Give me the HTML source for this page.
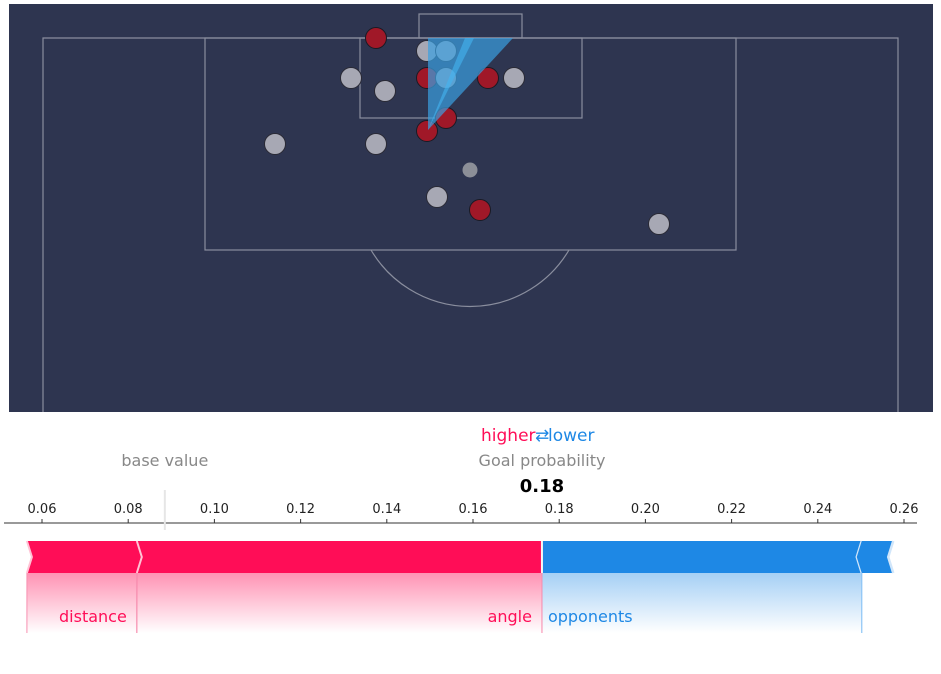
<!DOCTYPE html>
<html><head><meta charset="utf-8">
<style>
body{margin:0;background:#fff;width:941px;height:670px;overflow:hidden;font-family:"DejaVu Sans","Liberation Sans",sans-serif;}
svg text{font-family:"DejaVu Sans","Liberation Sans",sans-serif;}
</style></head>
<body>
<svg id="s" width="941" height="670" xmlns="http://www.w3.org/2000/svg">
<defs>
<linearGradient id="gr" x1="0" y1="0" x2="0" y2="1"><stop offset="0" stop-color="#ff0d57" stop-opacity="0.45"/><stop offset="1" stop-color="#ff0d57" stop-opacity="0"/></linearGradient>
<linearGradient id="gb" x1="0" y1="0" x2="0" y2="1"><stop offset="0" stop-color="#1e88e5" stop-opacity="0.4"/><stop offset="1" stop-color="#1e88e5" stop-opacity="0"/></linearGradient>
</defs>
<g>
<rect x="9" y="4" width="924" height="408" fill="#2e3550"/>
<g fill="none" stroke="#8a8e9e" stroke-width="1.2">
<path d="M43 412 V38 H898 V412"/>
<rect x="205" y="38" width="531" height="212"/>
<rect x="360" y="38" width="222" height="80"/>
<rect x="419" y="14" width="103" height="24"/>
<path d="M371 250 A115 115 0 0 0 569 250"/>
</g>
</g>
<g id="players"></g>
<g>
<polygon points="428,130 428,38 513,38" fill="#3aa0e0" opacity="0.7"/>
<polygon points="428,130 465,38 474,38" fill="#45b4f2" opacity="0.6"/>
</g>
<g id="force"></g>
</svg>
<script>
// pitch players (pixel-space positions)
const attackersX=[376,427,488,446,427,480];
const attackersY=[38,78,78,118,131,210];
const defendersX=[427,446,351,446,514,385,275,376,437,659];
const defendersY=[51,51,78,78,78,91,144,144,197,224];
// force plot data
const tickValues=[0.06,0.08,0.10,0.12,0.14,0.16,0.18,0.20,0.22,0.24,0.26];
const tickLabels=["0.06","0.08","0.10","0.12","0.14","0.16","0.18","0.20","0.22","0.24","0.26"];
const redStarts=[0.0565,0.082];
const redEnds=[0.082,0.176];
const redNames=["distance","angle"];
const blueStarts=[0.176,0.2502];
const blueEnds=[0.2502,0.2575];
const blueNames=["opponents",""];
const outputValue=0.176;
const baseValue=0.0885;

const NS="http://www.w3.org/2000/svg";
function mk(tag,attrs,parent,text){const e=document.createElementNS(NS,tag);for(const k in attrs)e.setAttribute(k,attrs[k]);if(text!==undefined)e.textContent=text;parent.appendChild(e);return e;}
const pg=document.getElementById('players');
attackersX.forEach((x,i)=>{const c=mk('circle',{cx:x,cy:attackersY[i],r:10.5,fill:'#a01828',stroke:'#1a1a24','stroke-width':1},pg);

});
defendersX.forEach((x,i)=>{const c=mk('circle',{cx:x,cy:defendersY[i],r:10.5,fill:'#a7a8b4',stroke:'#2a2a35','stroke-width':1},pg);

});
const ball=mk('circle',{cx:470,cy:170,r:7.5,fill:'#8c8f98'},pg);



const X=v=>42+(v-0.06)*4310;
const fg=document.getElementById('force');
const ax=mk('line',{x1:4,x2:917,y1:523,y2:523,stroke:'#333','stroke-width':1},fg);


tickValues.forEach((v,i)=>{
 mk('line',{x1:X(v),x2:X(v),y1:519,y2:523,stroke:'#333'},fg);
 const t=mk('text',{x:X(v),y:513,'font-size':13,'text-anchor':'middle',fill:'#222'},fg,tickLabels[i]);
 
 
});
const bl=mk('line',{x1:X(baseValue),x2:X(baseValue),y1:490,y2:530,stroke:'#e6e6e6','stroke-width':2},fg);


const bt=mk('text',{x:X(baseValue),y:466,'font-size':16,'text-anchor':'middle',fill:'#888'},fg,'base value');


const gp=mk('text',{x:542,y:466,'font-size':16,'text-anchor':'middle',fill:'#888'},fg,'Goal probability');


const ov=mk('text',{x:X(outputValue),y:492,'font-size':18,'font-weight':'bold','text-anchor':'middle',fill:'#000'},fg,outputValue.toFixed(2));


const hl=mk('text',{x:481,y:441,'font-size':17,fill:'#ff0d57'},fg,'higher');


const ar=mk('text',{x:535,y:441,'font-size':17,fill:'#1e88e5'},fg,'⇄');


const lw=mk('text',{x:548,y:441,'font-size':17,fill:'#1e88e5'},fg,'lower');



const y0=541,y1=573,ym=557,ch=5;
redStarts.forEach((s,i)=>{
 const a=X(s),b=X(redEnds[i]);
 const g=mk('rect',{x:a,y:y1,width:b-a,height:60,fill:'url(#gr)'},fg);
 
 
 const last=i===redStarts.length-1;
 const d=last?`M${a} ${y0} L${b} ${y0} L${b} ${y1} L${a} ${y1} L${a+ch} ${ym} Z`:`M${a} ${y0} L${b} ${y0} L${b+ch} ${ym} L${b} ${y1} L${a} ${y1} L${a+ch} ${ym} Z`;
 const p=mk('path',{d:d,fill:'#ff0d57'},fg);
 
 
 mk('path',{d:`M${a} ${y0} L${a+ch} ${ym} L${a} ${y1}`,fill:'none',stroke:'#ffc3d5','stroke-width':2},fg);
 mk('line',{x1:a,x2:a,y1:y1,y2:633,stroke:'#f78fb0','stroke-width':1},fg);
 mk('line',{x1:b,x2:b,y1:y1,y2:633,stroke:'#f78fb0','stroke-width':1},fg);
 const t=mk('text',{x:b-10,y:622,'font-size':16,'text-anchor':'end',fill:'#ff0d57'},fg,redNames[i]);
 
 
});
blueStarts.forEach((s,i)=>{
 const a=X(s),b=X(blueEnds[i]);
 if(i===0){const g=mk('rect',{x:a,y:y1,width:b-a,height:60,fill:'url(#gb)'},fg);
 
 
 mk('line',{x1:a,x2:a,y1:y1,y2:633,stroke:'#f78fb0','stroke-width':1},fg);
 mk('line',{x1:b,x2:b,y1:y1,y2:633,stroke:'#8cc4f5','stroke-width':1.2},fg);}
 const d=i===0?`M${a} ${y0} L${b} ${y0} L${b-ch} ${ym} L${b} ${y1} L${a} ${y1} Z`:`M${a} ${y0} L${b} ${y0} L${b-ch} ${ym} L${b} ${y1} L${a} ${y1} L${a-ch} ${ym} Z`;
 const p=mk('path',{d:d,fill:'#1e88e5'},fg);
 
 
 mk('path',{d:`M${b} ${y0} L${b-ch} ${ym} L${b} ${y1}`,fill:'none',stroke:'#d1e6fa','stroke-width':2.5},fg);
 if(blueNames[i]){const t=mk('text',{x:a+6,y:622,'font-size':16,fill:'#1e88e5'},fg,blueNames[i]);
 
 }
});
mk('line',{x1:X(outputValue),x2:X(outputValue),y1:y0,y2:y1,stroke:'#f5f5f5','stroke-width':2},fg);
</script>
</body></html>
